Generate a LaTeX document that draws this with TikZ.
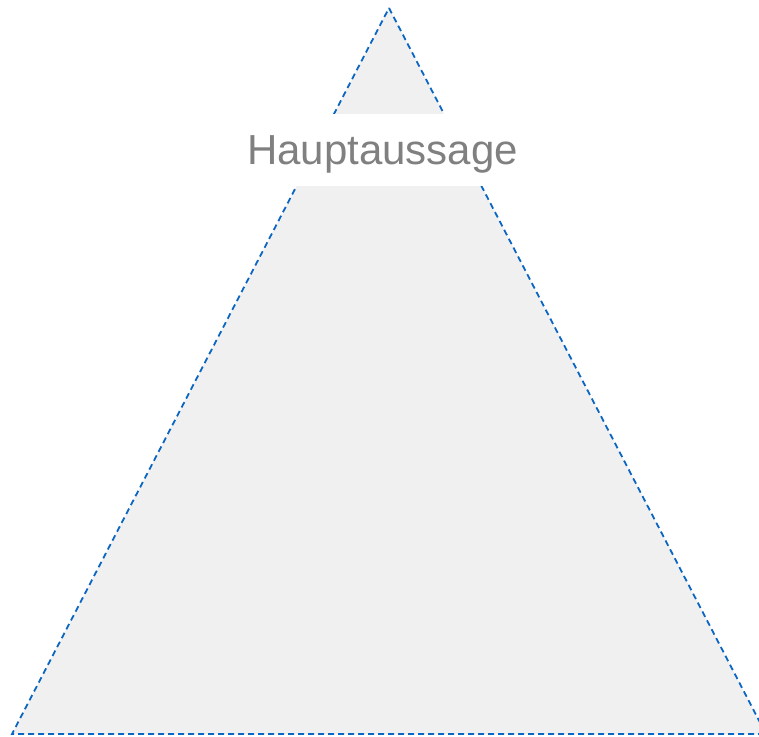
\documentclass[tikz,border=0pt]{standalone}
\usepackage{fontspec}
\setmainfont{Liberation Sans}
\begin{document}
\begin{tikzpicture}[x=1pt,y=-1pt,
  tri/.style={fill=triGray,draw=triBlue,line width=1.8pt,dash pattern=on 6pt off 4pt},
  labelbox/.style={fill=white,text=labelGray,inner sep=0pt,text depth=0pt,minimum width=285pt,minimum height=72pt,font=\fontsize{42}{42}\selectfont}]
\definecolor{triGray}{HTML}{F0F0F0}
\definecolor{triBlue}{HTML}{0A66C2}
\definecolor{labelGray}{HTML}{808080}
\useasboundingbox (0,0) rectangle (759,736);
\coordinate (apex) at (389,8);
\coordinate (bl) at (12,734);
\coordinate (br) at (766,734);
\begin{scope}
\clip (0,0) rectangle (759,736);
\draw[tri] (apex) -- (br) -- (bl) -- cycle;
\end{scope}
\node[labelbox] (main) at (382.5,150) {Hauptaussage};
\end{tikzpicture}
\end{document}
